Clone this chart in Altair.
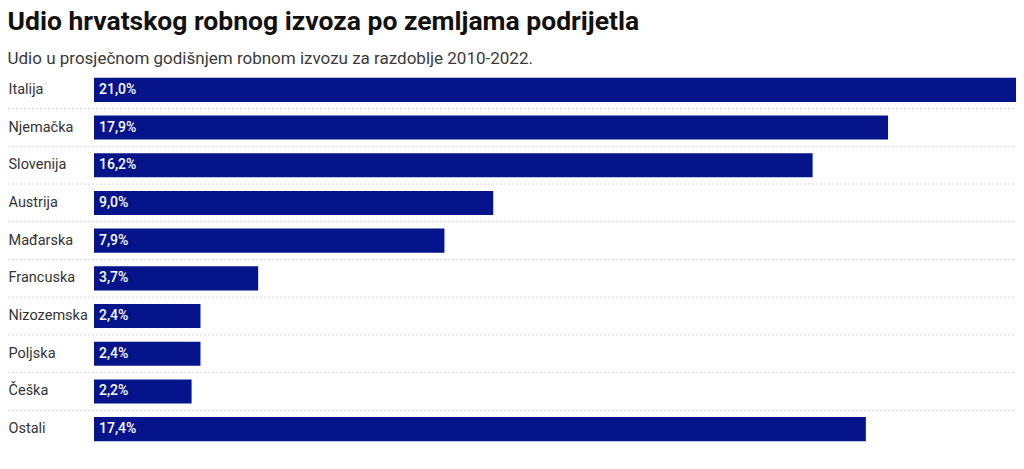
import altair as alt
import pandas as pd

countries = ["Italija", "Njemačka", "Slovenija", "Austrija", "Mađarska",
             "Francuska", "Nizozemska", "Poljska", "Češka", "Ostali"]
shares = [21.0, 17.9, 16.2, 9.0, 7.9, 3.7, 2.4, 2.4, 2.2, 17.4]
labels = [f"{v:.1f}".replace(".", ",") + "%" for v in shares]

df = pd.DataFrame({"zemlja": countries, "udio": shares, "oznaka": labels})
sep = pd.DataFrame({"zemlja": countries[1:]})

W = 922
H = 377
LEFT = 86

yenc = alt.Y("zemlja:N", sort=countries,
             scale=alt.Scale(paddingInner=0.36, paddingOuter=0.18),
             axis=alt.Axis(title=None, domain=False, ticks=False, tickSize=0,
                           grid=False,
                           labelAlign="left", labelPadding=LEFT,
                           labelFont="Roboto", labelFontSize=14.5,
                           labelColor="#333333", labelLimit=200))

xscale = alt.Scale(domain=[0, 20.785], nice=False, zero=True)

rules = alt.Chart(sep).mark_rule(
    color="#d6d6d6", strokeDash=[2, 2], strokeWidth=1, yOffset=-18.85
).encode(
    y=yenc,
    x=alt.value(-LEFT),
    x2=alt.value(W),
)

bars = alt.Chart(df).mark_bar(color="#05148a", cornerRadius=0).encode(
    y=yenc,
    x=alt.X("udio:Q", scale=xscale, axis=None),
)

text = alt.Chart(df).mark_text(
    align="left", baseline="middle", dx=5, color="white",
    font="Roboto", fontSize=14, fontWeight=500
).encode(
    y=yenc,
    x=alt.X("zero:Q", scale=xscale, axis=None),
    text="oznaka:N",
).transform_calculate(zero="0")

chart = alt.layer(rules, bars, text).properties(
    width=W, height=H,
    autosize=alt.AutoSizeParams(type="none"),
    padding={"left": LEFT, "top": 63, "right": 0, "bottom": 0},
    view=alt.ViewBackground(stroke="transparent", strokeWidth=0),
    title=alt.TitleParams(
        text="Udio hrvatskog robnog izvoza po zemljama podrijetla",
        subtitle="Udio u prosječnom godišnjem robnom izvozu za razdoblje 2010-2022.",
        anchor="start", offset=4,
        font="Roboto", fontSize=26.5, fontWeight="bold", color="#111111",
        subtitleFont="Roboto", subtitleFontSize=17, subtitleColor="#3a3a3a",
        subtitlePadding=15.5,
    ),
).configure_view(strokeWidth=0, stroke="transparent").configure(background="white")

chart.save("out.html", embed_options={"renderer": "svg", "actions": False})
